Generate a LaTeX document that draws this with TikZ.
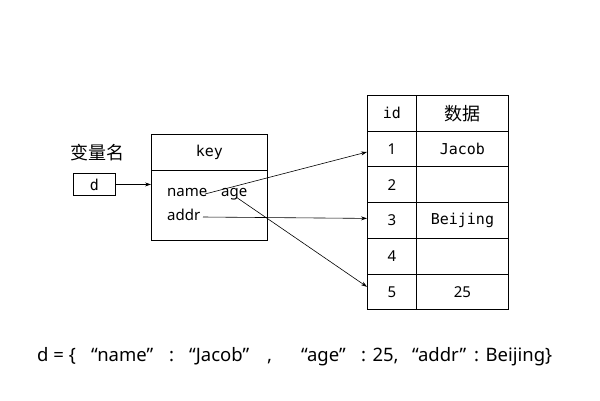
\documentclass[tikz,border=0pt]{standalone}
\usepackage{fontspec}
\setmainfont{Noto Sans}
\newfontfamily\cjkf{Noto Sans CJK SC}
\newfontfamily\monof{DejaVu Sans Mono}
\usetikzlibrary{arrows.meta}
\tikzset{
  box/.style={draw, line width=0.9pt, inner sep=0pt, anchor=north west},
  cellA/.style={box, minimum width=49pt, minimum height=35.7pt},
  cellB/.style={box, minimum width=92pt, minimum height=35.7pt},
  arr/.style={-{Stealth[length=6pt,width=4pt]}, line width=0.6pt},
  lbl/.style={font=\fontsize{15}{17}\selectfont},
  mlbl/.style={font=\monof\fontsize{15}{17}\selectfont},
  cjk/.style={font=\cjkf\fontsize{18}{20}\selectfont},
}
\newcommand{\pc}[2]{\makebox[#1pt][l]{#2}}
\begin{document}
\begin{tikzpicture}[x=1pt,y=-1pt]
\useasboundingbox[fill=white] (0,0) rectangle (600,400);
% variable
\node[cjk] (varname) at (97,153) {变量名};
\node[box, minimum width=42pt, minimum height=22pt, mlbl] (dbox) at (73,173) {d};
% key box
\node[box, minimum width=116pt, minimum height=36pt, mlbl] (keyhead) at (151,134) {key};
\node[box, minimum width=116pt, minimum height=70pt] (keybody) at (151,170) {};
\node[lbl, anchor=base west, inner sep=0pt] (nameT) at (167,196.5) {name};
\node[lbl, anchor=base west, inner sep=0pt] (ageT) at (221,196.5) {age};
\node[lbl, anchor=base west, inner sep=0pt] (addrT) at (167,220) {addr};
% table
\node[cellA, mlbl] (h1) at (367,95) {id};
\node[cellB, cjk] (h2) at (416,95) {数据};
\node[cellA, lbl] (r1a) at (367,130.7) {1};
\node[cellB, mlbl] (r1b) at (416,130.7) {Jacob};
\node[cellA, lbl] (r2a) at (367,166.4) {2};
\node[cellB] (r2b) at (416,166.4) {};
\node[cellA, lbl] (r3a) at (367,202.1) {3};
\node[cellB, mlbl] (r3b) at (416,202.1) {Beijing};
\node[cellA, lbl] (r4a) at (367,237.8) {4};
\node[cellB] (r4b) at (416,237.8) {};
\node[cellA, lbl] (r5a) at (367,273.5) {5};
\node[cellB, lbl] (r5b) at (416,273.5) {25};
% connectors
\draw[arr] (dbox.east) -- (keybody.west |- dbox.east);
\coordinate (nameEnd) at (205,194);
\coordinate (addrEnd) at (203,217);
\coordinate (ageEnd) at (236,197);
\draw[arr] (nameEnd) -- ([yshift=-3pt]r1a.west);
\draw[arr] (addrEnd) -- ([yshift=2pt]r3a.west);
\draw[arr] (ageEnd) -- ([yshift=5pt]r5a.west);
% bottom formula
\node[font=\fontsize{18.5}{20}\selectfont, anchor=base west, inner sep=0pt] (formula) at (37,361)
  {\pc{54}{d = \{}\pc{78}{“name”}\pc{20}{:}\pc{78}{“Jacob”}\pc{34}{,}\pc{60}{“age”}\pc{51}{: 25,}\pc{62}{“addr”}: Beijing\}};
\end{tikzpicture}
\end{document}
